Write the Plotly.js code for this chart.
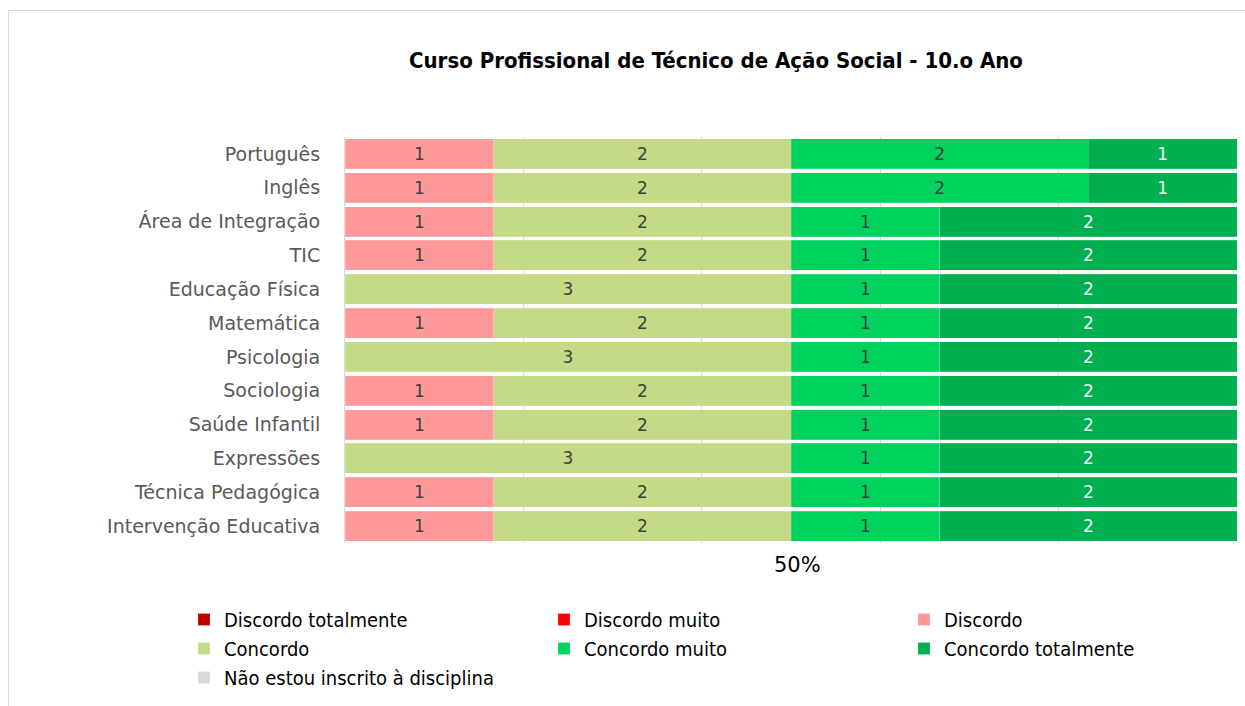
<!DOCTYPE html>
<html>
<head>
<meta charset="utf-8">
<script src="https://cdn.plot.ly/plotly-3.0.1.min.js"></script>
<style>
html,body{margin:0;padding:0;background:#fff;}
#chart{width:1245px;height:706px;}
</style>
</head>
<body>
<div id="chart"></div>
<script>
const categories = ['Português','Inglês','Área de Integração','TIC','Educação Física','Matemática','Psicologia','Sociologia','Saúde Infantil','Expressões','Técnica Pedagógica','Intervenção Educativa'];
const seriesNames = ['Discordo totalmente','Discordo muito','Discordo','Concordo','Concordo muito','Concordo totalmente','Não estou inscrito à disciplina'];
const discordoTotalmente = [0,0,0,0,0,0,0,0,0,0,0,0];
const discordoMuito      = [0,0,0,0,0,0,0,0,0,0,0,0];
const discordo           = [1,1,1,1,0,1,0,1,1,0,1,1];
const concordo           = [2,2,2,2,3,2,3,2,2,3,2,2];
const concordoMuito      = [2,2,1,1,1,1,1,1,1,1,1,1];
const concordoTotalmente = [1,1,2,2,2,2,2,2,2,2,2,2];
const naoInscrito        = [0,0,0,0,0,0,0,0,0,0,0,0];
const tickLabel = '50%';
const chartTitle = 'Curso Profissional de Técnico de Ação Social - 10.o Ano';

const seriesValues = [discordoTotalmente, discordoMuito, discordo, concordo, concordoMuito, concordoTotalmente, naoInscrito];
const colors = ['#C00000','#FF0000','#FF9999','#C4DA86','#00D25E','#00B050','#D9D9D9'];
const textColors = ['#FFFFFF','#FFFFFF','#404040','#404040','#404040','#F2F2F2','#404040'];
const legendIds = ['legend','legend2','legend3','legend','legend2','legend3','legend'];

const traces = seriesNames.map((name, i) => ({
  type: 'bar',
  orientation: 'h',
  name: name,
  legend: legendIds[i],
  y: categories,
  x: seriesValues[i],
  text: seriesValues[i].map(v => v ? String(v) : ''),
  texttemplate: '%{text}',
  textposition: 'inside',
  insidetextanchor: 'middle',
  constraintext: 'none',
  textangle: 0,
  textfont: {family: 'DejaVu Sans, sans-serif', size: 17, color: textColors[i]},
  marker: {color: colors[i], line: {width: 0.5, color: 'rgba(255,255,255,0.35)'}},
  hoverinfo: 'name+x'
}));

const L = 345, R = 8, T = 137, B = 163;
const W = 1245 - L - R, H = 706 - T - B;
const px = p => (p - L) / W;
const py = p => (706 - B - p) / H;

const legendBase = {
  orientation: 'v', traceorder: 'normal', xanchor: 'left', yanchor: 'top',
  xref: 'container', yref: 'container',
  y: 1 - 600/706, bgcolor: 'rgba(0,0,0,0)',
  font: {family: 'DejaVu Sans Condensed, sans-serif', size: 20, color: '#000'},
  itemclick: false, itemdoubleclick: false, tracegroupgap: 0
};

const layout = {
  width: 1245, height: 706,
  margin: {l: L, r: R, t: T, b: B, autoexpand: false},
  paper_bgcolor: '#fff', plot_bgcolor: '#fff',
  barmode: 'stack',
  barnorm: 'fraction',
  bargap: 0.11,
  title: {
    text: chartTitle,
    font: {family: 'DejaVu Sans Condensed, sans-serif', size: 22, color: '#000', weight: 'bold'},
    xref: 'paper', x: px(716), xanchor: 'center',
    yref: 'container', y: 1 - 60/706, yanchor: 'middle'
  },
  xaxis: {
    range: [0, 1], dtick: 0.2, showgrid: true, gridcolor: '#D9D9D9', gridwidth: 1,
    showticklabels: false, zeroline: false, showline: false, fixedrange: true
  },
  yaxis: {
    autorange: 'reversed', showgrid: false, zeroline: false,
    showline: true, linecolor: '#D9D9D9', linewidth: 1,
    ticks: 'outside', ticklen: 20, tickcolor: 'rgba(0,0,0,0)',
    tickfont: {family: 'DejaVu Sans, sans-serif', size: 19, color: '#595959'}
  },
  showlegend: true,
  legend:  Object.assign({}, legendBase, {x: 184/1245}),
  legend2: Object.assign({}, legendBase, {x: 544/1245}),
  legend3: Object.assign({}, legendBase, {x: 904/1245}),
  annotations: [{
    text: tickLabel, xref: 'x', x: 0.5, xshift: 6, yref: 'paper', y: py(565), yanchor: 'middle',
    showarrow: false, font: {family: 'DejaVu Sans, sans-serif', size: 21, color: '#000'}
  }],
  shapes: [
    {type: 'line', xref: 'paper', yref: 'paper', x0: px(8.5), x1: px(1250), y0: py(10.5), y1: py(10.5), line: {color: '#D9D9D9', width: 1}},
    {type: 'line', xref: 'paper', yref: 'paper', x0: px(8.5), x1: px(8.5), y0: py(10.5), y1: py(710), line: {color: '#D9D9D9', width: 1}}
  ]
};

Plotly.newPlot('chart', traces, layout, {displayModeBar: false, responsive: false});
</script>
</body>
</html>
